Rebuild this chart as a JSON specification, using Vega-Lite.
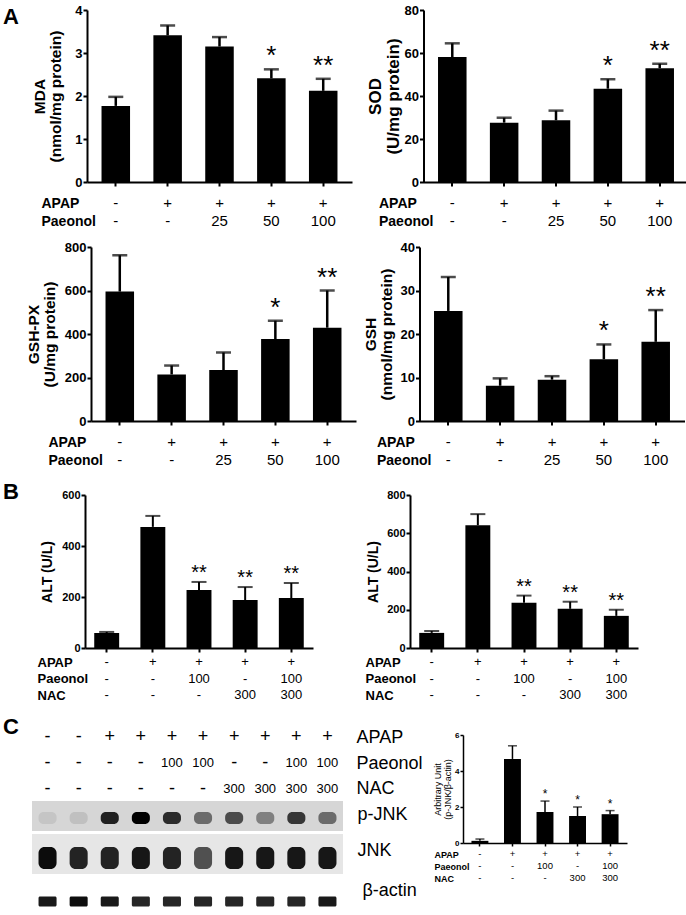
{
"$schema": "https://vega.github.io/schema/vega-lite/v6.json",
"background": "white",
"padding": {"left": 3, "top": 4, "right": 0, "bottom": 0},
"spacing": 11,
"config": {
  "font": "Liberation Sans",
  "view": {"stroke": null},
  "axis": {"grid": false, "domainColor": "black", "tickColor": "black", "labelColor": "black", "titleColor": "black", "labelFontWeight": "bold", "titleFontWeight": "bold", "labelOverlap": false},
  "axisX": {"labels": false, "tickSize": 4, "tickWidth": 2, "domainWidth": 2},
  "axisY": {"tickSize": 4, "tickWidth": 2, "domainWidth": 2, "labelPadding": 1, "labelOverlap": false}
},
"datasets": {
  "mda": [{"g":1,"m":1.77,"e":1.98,"s":""},{"g":2,"m":3.41,"e":3.64,"s":""},{"g":3,"m":3.15,"e":3.37,"s":""},{"g":4,"m":2.41,"e":2.62,"s":"*"},{"g":5,"m":2.12,"e":2.40,"s":"**"}],
  "sod": [{"g":1,"m":58.1,"e":64.5,"s":""},{"g":2,"m":27.6,"e":29.9,"s":""},{"g":3,"m":28.7,"e":33.2,"s":""},{"g":4,"m":43.4,"e":47.8,"s":"*"},{"g":5,"m":52.9,"e":55.0,"s":"**"}],
  "gshpx": [{"g":1,"m":595,"e":762,"s":""},{"g":2,"m":214,"e":255,"s":""},{"g":3,"m":234,"e":315,"s":""},{"g":4,"m":377,"e":461,"s":"*"},{"g":5,"m":429,"e":600,"s":"**"}],
  "gsh": [{"g":1,"m":25.3,"e":33.1,"s":""},{"g":2,"m":8.1,"e":9.8,"s":""},{"g":3,"m":9.5,"e":10.3,"s":""},{"g":4,"m":14.2,"e":17.6,"s":"*"},{"g":5,"m":18.2,"e":25.5,"s":"**"}],
  "alt1": [{"g":1,"m":59,"e":63,"s":""},{"g":2,"m":475,"e":518,"s":""},{"g":3,"m":227,"e":259,"s":"**"},{"g":4,"m":188,"e":239,"s":"**"},{"g":5,"m":196,"e":255,"s":"**"}],
  "alt2": [{"g":1,"m":79,"e":89,"s":""},{"g":2,"m":642,"e":700,"s":""},{"g":3,"m":237,"e":274,"s":"**"},{"g":4,"m":205,"e":242,"s":"**"},{"g":5,"m":168,"e":200,"s":"**"}],
  "pj": [{"g":1,"m":0.12,"e":0.22,"s":""},{"g":2,"m":4.67,"e":5.4,"s":""},{"g":3,"m":1.72,"e":2.33,"s":"*"},{"g":4,"m":1.5,"e":2.0,"s":"*"},{"g":5,"m":1.6,"e":1.8,"s":"*"}],
  "tA": [{"g":1,"r":"APAP","v":"-"},{"g":2,"r":"APAP","v":"+"},{"g":3,"r":"APAP","v":"+"},{"g":4,"r":"APAP","v":"+"},{"g":5,"r":"APAP","v":"+"},
         {"g":1,"r":"Paeonol","v":"-"},{"g":2,"r":"Paeonol","v":"-"},{"g":3,"r":"Paeonol","v":"25"},{"g":4,"r":"Paeonol","v":"50"},{"g":5,"r":"Paeonol","v":"100"}],
  "tB": [{"g":1,"r":"APAP","v":"-"},{"g":2,"r":"APAP","v":"+"},{"g":3,"r":"APAP","v":"+"},{"g":4,"r":"APAP","v":"+"},{"g":5,"r":"APAP","v":"+"},
         {"g":1,"r":"Paeonol","v":"-"},{"g":2,"r":"Paeonol","v":"-"},{"g":3,"r":"Paeonol","v":"100"},{"g":4,"r":"Paeonol","v":"-"},{"g":5,"r":"Paeonol","v":"100"},
         {"g":1,"r":"NAC","v":"-"},{"g":2,"r":"NAC","v":"-"},{"g":3,"r":"NAC","v":"-"},{"g":4,"r":"NAC","v":"300"},{"g":5,"r":"NAC","v":"300"}],
  "tW": [{"lane":1,"r":"APAP","v":"-"},{"lane":2,"r":"APAP","v":"-"},{"lane":3,"r":"APAP","v":"+"},{"lane":4,"r":"APAP","v":"+"},{"lane":5,"r":"APAP","v":"+"},{"lane":6,"r":"APAP","v":"+"},{"lane":7,"r":"APAP","v":"+"},{"lane":8,"r":"APAP","v":"+"},{"lane":9,"r":"APAP","v":"+"},{"lane":10,"r":"APAP","v":"+"},
         {"lane":1,"r":"Paeonol","v":"-"},{"lane":2,"r":"Paeonol","v":"-"},{"lane":3,"r":"Paeonol","v":"-"},{"lane":4,"r":"Paeonol","v":"-"},{"lane":5,"r":"Paeonol","v":"100"},{"lane":6,"r":"Paeonol","v":"100"},{"lane":7,"r":"Paeonol","v":"-"},{"lane":8,"r":"Paeonol","v":"-"},{"lane":9,"r":"Paeonol","v":"100"},{"lane":10,"r":"Paeonol","v":"100"},
         {"lane":1,"r":"NAC","v":"-"},{"lane":2,"r":"NAC","v":"-"},{"lane":3,"r":"NAC","v":"-"},{"lane":4,"r":"NAC","v":"-"},{"lane":5,"r":"NAC","v":"-"},{"lane":6,"r":"NAC","v":"-"},{"lane":7,"r":"NAC","v":"300"},{"lane":8,"r":"NAC","v":"300"},{"lane":9,"r":"NAC","v":"300"},{"lane":10,"r":"NAC","v":"300"}],
  "wp": [{"lane":1,"strip":"p-JNK","i":0.08},{"lane":2,"strip":"p-JNK","i":0.1},{"lane":3,"strip":"p-JNK","i":0.85},{"lane":4,"strip":"p-JNK","i":1.0},{"lane":5,"strip":"p-JNK","i":0.8},{"lane":6,"strip":"p-JNK","i":0.5},{"lane":7,"strip":"p-JNK","i":0.65},{"lane":8,"strip":"p-JNK","i":0.4},{"lane":9,"strip":"p-JNK","i":0.75},{"lane":10,"strip":"p-JNK","i":0.5}],
  "wj": [{"lane":1,"strip":"JNK","i":0.95},{"lane":2,"strip":"JNK","i":0.85},{"lane":3,"strip":"JNK","i":0.85},{"lane":4,"strip":"JNK","i":0.9},{"lane":5,"strip":"JNK","i":0.85},{"lane":6,"strip":"JNK","i":0.65},{"lane":7,"strip":"JNK","i":0.9},{"lane":8,"strip":"JNK","i":0.9},{"lane":9,"strip":"JNK","i":0.9},{"lane":10,"strip":"JNK","i":0.9}],
  "wa": [{"lane":1,"strip":"β-actin","i":0.9},{"lane":2,"strip":"β-actin","i":0.95},{"lane":3,"strip":"β-actin","i":0.9},{"lane":4,"strip":"β-actin","i":0.85},{"lane":5,"strip":"β-actin","i":0.85},{"lane":6,"strip":"β-actin","i":0.85},{"lane":7,"strip":"β-actin","i":0.85},{"lane":8,"strip":"β-actin","i":0.85},{"lane":9,"strip":"β-actin","i":0.85},{"lane":10,"strip":"β-actin","i":0.9}]
},
"vconcat": [
 {"spacing": 13.5, "hconcat": [
   {"spacing": 13, "hconcat": [
     {"width": 16, "height": 10, "data": {"values": [{"p": "A"}]}, "mark": {"type": "text", "fontSize": 22, "fontWeight": "bold", "dy": 1.5}, "encoding": {"text": {"field": "p"}}},
     {"spacing": 5, "vconcat": [
       {"width": 265, "height": 172, "data": {"name": "mda"},
        "encoding": {"x": {"field": "g", "type": "ordinal", "scale": {"type": "band", "paddingInner": 0.45, "paddingOuter": 0.28}, "axis": {"title": null}}},
        "layer": [
          {"mark": {"type": "bar", "color": "black"}, "encoding": {"y": {"field": "m", "type": "quantitative", "scale": {"domain": [0, 4], "nice": false}, "axis": {"values": [0,1,2,3,4], "tickCount": 20, "format": "d", "labelOverlap": false, "title": ["MDA", "(nmol/mg protein)"], "titleFontSize": 15.5, "titleLineHeight": 16, "titlePadding": 11, "labelFontSize": 13}}}},
          {"mark": {"type": "rule", "color": "black", "strokeWidth": 2.5}, "encoding": {"y": {"field": "m", "type": "quantitative"}, "y2": {"field": "e"}}},
          {"mark": {"type": "tick", "color": "black", "thickness": 2.5}, "encoding": {"y": {"field": "e", "type": "quantitative"}, "size": {"value": 15}}},
          {"transform": [{"filter": "datum.s != ''"}], "mark": {"type": "text", "fontSize": 26, "baseline": "alphabetic", "dy": -5}, "encoding": {"y": {"field": "e", "type": "quantitative"}, "text": {"field": "s"}}}
        ]},
       {"width": 265, "height": 36, "data": {"name": "tA"}, "mark": {"type": "text", "fontSize": 15},
        "encoding": {"x": {"field": "g", "type": "ordinal", "scale": {"type": "band", "paddingInner": 0.45, "paddingOuter": 0.28}, "axis": null},
          "y": {"field": "r", "type": "nominal", "sort": ["APAP", "Paeonol"], "axis": {"domain": false, "ticks": false, "tickSize": 0, "labelAlign": "left", "labelPadding": 46, "labelFontSize": 14, "title": null}},
          "text": {"field": "v"}}}
     ]}
   ]},
   {"spacing": 5, "vconcat": [
     {"width": 265, "height": 172, "data": {"name": "sod"},
      "encoding": {"x": {"field": "g", "type": "ordinal", "scale": {"type": "band", "paddingInner": 0.45, "paddingOuter": 0.28}, "axis": {"title": null}}},
      "layer": [
        {"mark": {"type": "bar", "color": "black"}, "encoding": {"y": {"field": "m", "type": "quantitative", "scale": {"domain": [0, 80], "nice": false}, "axis": {"values": [0,20,40,60,80], "tickCount": 20, "format": "d", "labelOverlap": false, "title": ["SOD", "(U/mg protein)"], "titleFontSize": 17, "titleLineHeight": 18, "titlePadding": 2, "labelFontSize": 13}}}},
        {"mark": {"type": "rule", "color": "black", "strokeWidth": 2.5}, "encoding": {"y": {"field": "m", "type": "quantitative"}, "y2": {"field": "e"}}},
        {"mark": {"type": "tick", "color": "black", "thickness": 2.5}, "encoding": {"y": {"field": "e", "type": "quantitative"}, "size": {"value": 15}}},
        {"transform": [{"filter": "datum.s != ''"}], "mark": {"type": "text", "fontSize": 26, "baseline": "alphabetic", "dy": -5}, "encoding": {"y": {"field": "e", "type": "quantitative"}, "text": {"field": "s"}}}
      ]},
     {"width": 265, "height": 36, "data": {"name": "tA"}, "mark": {"type": "text", "fontSize": 15},
      "encoding": {"x": {"field": "g", "type": "ordinal", "scale": {"type": "band", "paddingInner": 0.45, "paddingOuter": 0.28}, "axis": null},
        "y": {"field": "r", "type": "nominal", "sort": ["APAP", "Paeonol"], "axis": {"domain": false, "ticks": false, "tickSize": 0, "labelAlign": "left", "labelPadding": 45, "labelFontSize": 14, "title": null}},
        "text": {"field": "v"}}}
   ]}
 ]},
 {"spacing": 7.5, "hconcat": [
   {"spacing": 7, "hconcat": [
     {"width": 16, "height": 10, "data": {"values": [{"p": ""}]}, "mark": {"type": "text", "fontSize": 22}, "encoding": {"text": {"field": "p"}}},
     {"spacing": 5, "vconcat": [
       {"width": 265, "height": 174, "data": {"name": "gshpx"},
        "encoding": {"x": {"field": "g", "type": "ordinal", "scale": {"type": "band", "paddingInner": 0.45, "paddingOuter": 0.28}, "axis": {"title": null}}},
        "layer": [
          {"mark": {"type": "bar", "color": "black"}, "encoding": {"y": {"field": "m", "type": "quantitative", "scale": {"domain": [0, 800], "nice": false}, "axis": {"values": [0,200,400,600,800], "tickCount": 20, "format": "d", "labelOverlap": false, "title": ["GSH-PX", "(U/mg protein)"], "titleFontSize": 15.5, "titleLineHeight": 16, "titlePadding": 7, "labelFontSize": 13}}}},
          {"mark": {"type": "rule", "color": "black", "strokeWidth": 2.5}, "encoding": {"y": {"field": "m", "type": "quantitative"}, "y2": {"field": "e"}}},
          {"mark": {"type": "tick", "color": "black", "thickness": 2.5}, "encoding": {"y": {"field": "e", "type": "quantitative"}, "size": {"value": 15}}},
          {"transform": [{"filter": "datum.s != ''"}], "mark": {"type": "text", "fontSize": 26, "baseline": "alphabetic", "dy": -5}, "encoding": {"y": {"field": "e", "type": "quantitative"}, "text": {"field": "s"}}}
        ]},
       {"width": 265, "height": 36, "data": {"name": "tA"}, "mark": {"type": "text", "fontSize": 15},
        "encoding": {"x": {"field": "g", "type": "ordinal", "scale": {"type": "band", "paddingInner": 0.45, "paddingOuter": 0.28}, "axis": null},
          "y": {"field": "r", "type": "nominal", "sort": ["APAP", "Paeonol"], "axis": {"domain": false, "ticks": false, "tickSize": 0, "labelAlign": "left", "labelPadding": 43, "labelFontSize": 14, "title": null}},
          "text": {"field": "v"}}}
     ]}
   ]},
   {"spacing": 5, "vconcat": [
     {"width": 265, "height": 174, "data": {"name": "gsh"},
      "encoding": {"x": {"field": "g", "type": "ordinal", "scale": {"type": "band", "paddingInner": 0.45, "paddingOuter": 0.28}, "axis": {"title": null}}},
      "layer": [
        {"mark": {"type": "bar", "color": "black"}, "encoding": {"y": {"field": "m", "type": "quantitative", "scale": {"domain": [0, 40], "nice": false}, "axis": {"values": [0,10,20,30,40], "tickCount": 20, "format": "d", "labelOverlap": false, "title": ["GSH", "(nmol/mg protein)"], "titleFontSize": 15.5, "titleLineHeight": 16, "titlePadding": 5.5, "labelFontSize": 13}}}},
        {"mark": {"type": "rule", "color": "black", "strokeWidth": 2.5}, "encoding": {"y": {"field": "m", "type": "quantitative"}, "y2": {"field": "e"}}},
        {"mark": {"type": "tick", "color": "black", "thickness": 2.5}, "encoding": {"y": {"field": "e", "type": "quantitative"}, "size": {"value": 15}}},
        {"transform": [{"filter": "datum.s != ''"}], "mark": {"type": "text", "fontSize": 26, "baseline": "alphabetic", "dy": -5}, "encoding": {"y": {"field": "e", "type": "quantitative"}, "text": {"field": "s"}}}
      ]},
     {"width": 265, "height": 36, "data": {"name": "tA"}, "mark": {"type": "text", "fontSize": 15},
      "encoding": {"x": {"field": "g", "type": "ordinal", "scale": {"type": "band", "paddingInner": 0.45, "paddingOuter": 0.28}, "axis": null},
        "y": {"field": "r", "type": "nominal", "sort": ["APAP", "Paeonol"], "axis": {"domain": false, "ticks": false, "tickSize": 0, "labelAlign": "left", "labelPadding": 43, "labelFontSize": 14, "title": null}},
        "text": {"field": "v"}}}
   ]}
 ]},
 {"spacing": 52, "hconcat": [
   {"spacing": 18, "hconcat": [
     {"width": 16, "height": 10, "data": {"values": [{"p": "B"}]}, "mark": {"type": "text", "fontSize": 22, "fontWeight": "bold", "dy": -8.5}, "encoding": {"text": {"field": "p"}}},
     {"spacing": 1, "vconcat": [
       {"width": 228, "height": 153, "data": {"name": "alt1"},
        "encoding": {"x": {"field": "g", "type": "ordinal", "scale": {"type": "band", "paddingInner": 0.46, "paddingOuter": 0.2}, "axis": {"title": null}}},
        "layer": [
          {"mark": {"type": "bar", "color": "black"}, "encoding": {"y": {"field": "m", "type": "quantitative", "scale": {"domain": [0, 600], "nice": false}, "axis": {"values": [0,200,400,600], "tickCount": 20, "format": "d", "labelOverlap": false, "title": "ALT (U/L)", "titleFontSize": 14, "titlePadding": 7.6, "labelFontSize": 11}}}},
          {"mark": {"type": "rule", "color": "black", "strokeWidth": 2}, "encoding": {"y": {"field": "m", "type": "quantitative"}, "y2": {"field": "e"}}},
          {"mark": {"type": "tick", "color": "black", "thickness": 2}, "encoding": {"y": {"field": "e", "type": "quantitative"}, "size": {"value": 15}}},
          {"transform": [{"filter": "datum.s != ''"}], "mark": {"type": "text", "fontSize": 20, "baseline": "alphabetic", "dy": -3}, "encoding": {"y": {"field": "e", "type": "quantitative"}, "text": {"field": "s"}}}
        ]},
       {"width": 228, "height": 49.5, "data": {"name": "tB"}, "mark": {"type": "text", "fontSize": 13},
        "encoding": {"x": {"field": "g", "type": "ordinal", "scale": {"type": "band", "paddingInner": 0.46, "paddingOuter": 0.2}, "axis": null},
          "y": {"field": "r", "type": "nominal", "sort": ["APAP", "Paeonol", "NAC"], "axis": {"domain": false, "ticks": false, "tickSize": 0, "labelAlign": "left", "labelPadding": 48, "labelFontSize": 13, "title": null}},
          "text": {"field": "v"}}}
     ]}
   ]},
   {"spacing": 1, "vconcat": [
     {"width": 228, "height": 153, "data": {"name": "alt2"},
      "encoding": {"x": {"field": "g", "type": "ordinal", "scale": {"type": "band", "paddingInner": 0.46, "paddingOuter": 0.2}, "axis": {"title": null}}},
      "layer": [
        {"mark": {"type": "bar", "color": "black"}, "encoding": {"y": {"field": "m", "type": "quantitative", "scale": {"domain": [0, 800], "nice": false}, "axis": {"values": [0,200,400,600,800], "tickCount": 20, "format": "d", "labelOverlap": false, "title": "ALT (U/L)", "titleFontSize": 14, "titlePadding": 6.6, "labelFontSize": 11}}}},
        {"mark": {"type": "rule", "color": "black", "strokeWidth": 2}, "encoding": {"y": {"field": "m", "type": "quantitative"}, "y2": {"field": "e"}}},
        {"mark": {"type": "tick", "color": "black", "thickness": 2}, "encoding": {"y": {"field": "e", "type": "quantitative"}, "size": {"value": 15}}},
        {"transform": [{"filter": "datum.s != ''"}], "mark": {"type": "text", "fontSize": 20, "baseline": "alphabetic", "dy": -3}, "encoding": {"y": {"field": "e", "type": "quantitative"}, "text": {"field": "s"}}}
      ]},
     {"width": 228, "height": 49.5, "data": {"name": "tB"}, "mark": {"type": "text", "fontSize": 13},
      "encoding": {"x": {"field": "g", "type": "ordinal", "scale": {"type": "band", "paddingInner": 0.46, "paddingOuter": 0.2}, "axis": null},
        "y": {"field": "r", "type": "nominal", "sort": ["APAP", "Paeonol", "NAC"], "axis": {"domain": false, "ticks": false, "tickSize": 0, "labelAlign": "left", "labelPadding": 45, "labelFontSize": 13, "title": null}},
        "text": {"field": "v"}}}
   ]}
 ]},
 {"spacing": 10, "hconcat": [
   {"spacing": 13, "hconcat": [
     {"width": 16, "height": 10, "data": {"values": [{"p": "C"}]}, "mark": {"type": "text", "fontSize": 22, "fontWeight": "bold", "dy": -13.5}, "encoding": {"text": {"field": "p"}}},
     {"spacing": 3, "vconcat": [
       {"width": 311, "height": 56, "data": {"name": "tW"}, "mark": {"type": "text"},
        "encoding": {"x": {"field": "lane", "type": "ordinal", "scale": {"type": "band", "paddingInner": 0.42, "paddingOuter": 0.21}, "axis": null},
          "y": {"field": "r", "type": "nominal", "sort": ["APAP", "Paeonol", "NAC"], "scale": {"type": "point", "padding": 0.077}, "axis": {"orient": "right", "domain": false, "ticks": false, "tickSize": 0, "labelPadding": 13, "labelFontSize": 18, "labelFontWeight": "normal", "title": null}},
          "text": {"field": "v"},
          "size": {"condition": {"test": "datum.v === '+' || datum.v === '-'", "value": 18}, "value": 13}}},
       {"width": 311, "height": 30, "view": {"fill": "#d6d6d6"}, "data": {"name": "wp"}, "mark": {"type": "rect", "color": "black", "cornerRadius": 5},
        "encoding": {"x": {"field": "lane", "type": "ordinal", "scale": {"type": "band", "paddingInner": 0.42, "paddingOuter": 0.21}, "axis": null},
          "y": {"field": "strip", "type": "nominal", "scale": {"type": "band", "paddingInner": 0, "paddingOuter": 0.75, "align": 0.611}, "axis": {"orient": "right", "domain": false, "ticks": false, "tickSize": 0, "labelPadding": 14, "labelFontSize": 18, "labelFontWeight": "normal", "labelOffset": -3, "title": null}},
          "opacity": {"field": "i", "type": "quantitative", "scale": {"domain": [0, 1], "range": [0, 1]}, "legend": null}}},
       {"width": 311, "height": 40, "view": {"fill": "#e6e6e6"}, "data": {"name": "wj"}, "mark": {"type": "rect", "color": "black", "cornerRadius": 6},
        "encoding": {"x": {"field": "lane", "type": "ordinal", "scale": {"type": "band", "paddingInner": 0.42, "paddingOuter": 0.21}, "axis": null},
          "y": {"field": "strip", "type": "nominal", "scale": {"type": "band", "paddingInner": 0, "paddingOuter": 0.409, "align": 0.722}, "axis": {"orient": "right", "domain": false, "ticks": false, "tickSize": 0, "labelPadding": 14, "labelFontSize": 18, "labelFontWeight": "normal", "labelOffset": -7, "title": null}},
          "opacity": {"field": "i", "type": "quantitative", "scale": {"domain": [0, 1], "range": [0, 1]}, "legend": null}}},
       {"width": 311, "height": 30, "data": {"name": "wa"}, "mark": {"type": "rect", "color": "black", "cornerRadius": 1.5},
        "encoding": {"x": {"field": "lane", "type": "ordinal", "scale": {"type": "band", "paddingInner": 0.42, "paddingOuter": 0.21}, "axis": null},
          "y": {"field": "strip", "type": "nominal", "scale": {"type": "band", "paddingInner": 0, "paddingOuter": 3.79, "align": 0.98}, "axis": {"orient": "right", "domain": false, "ticks": false, "tickSize": 0, "labelPadding": 19, "labelFontSize": 18, "labelFontWeight": "normal", "labelOffset": -11, "title": null}},
          "opacity": {"field": "i", "type": "quantitative", "scale": {"domain": [0, 1], "range": [0, 1]}, "legend": null}}}
     ]}
   ]},
   {"spacing": 1, "vconcat": [
     {"width": 164, "height": 108, "data": {"name": "pj"},
      "encoding": {"x": {"field": "g", "type": "ordinal", "scale": {"type": "band", "paddingInner": 0.48, "paddingOuter": 0.26}, "axis": {"title": null, "tickSize": 3, "tickWidth": 1.5, "domainWidth": 1.5}}},
      "layer": [
        {"mark": {"type": "bar", "color": "black"}, "encoding": {"y": {"field": "m", "type": "quantitative", "scale": {"domain": [0, 6], "nice": false}, "axis": {"values": [0,2,4,6], "tickCount": 20, "format": "d", "labelOverlap": false, "title": ["Arbitrary Unit", "(p-JNK/β-actin)"], "titleFontSize": 9, "titleFontWeight": "normal", "titleLineHeight": 10, "titlePadding": 2, "labelFontSize": 8, "tickSize": 3, "tickWidth": 1.5, "domainWidth": 1.5}}}},
        {"mark": {"type": "rule", "color": "black", "strokeWidth": 1.5}, "encoding": {"y": {"field": "m", "type": "quantitative"}, "y2": {"field": "e"}}},
        {"mark": {"type": "tick", "color": "black", "thickness": 1.5}, "encoding": {"y": {"field": "e", "type": "quantitative"}, "size": {"value": 9}}},
        {"transform": [{"filter": "datum.s != ''"}], "mark": {"type": "text", "fontSize": 12, "baseline": "alphabetic", "dy": -3}, "encoding": {"y": {"field": "e", "type": "quantitative"}, "text": {"field": "s"}}}
      ]},
     {"width": 164, "height": 36, "data": {"name": "tB"}, "mark": {"type": "text", "fontSize": 9.5},
      "encoding": {"x": {"field": "g", "type": "ordinal", "scale": {"type": "band", "paddingInner": 0.48, "paddingOuter": 0.26}, "axis": null},
        "y": {"field": "r", "type": "nominal", "sort": ["APAP", "Paeonol", "NAC"], "axis": {"domain": false, "ticks": false, "tickSize": 0, "labelAlign": "left", "labelPadding": 29, "labelFontSize": 9, "title": null}},
        "text": {"field": "v"}}}
   ]}
 ]}
]
}
